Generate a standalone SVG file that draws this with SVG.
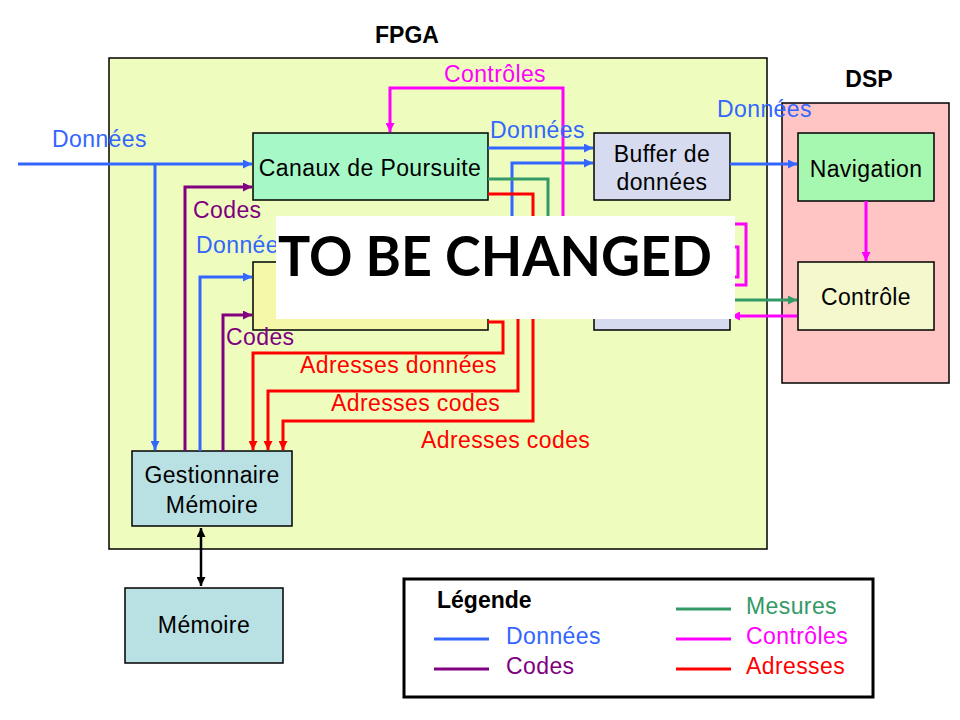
<svg xmlns="http://www.w3.org/2000/svg" width="960" height="720" viewBox="0 0 960 720">
<defs>
<style>
text{font-family:"Liberation Sans",Arial,sans-serif;font-size:23px;letter-spacing:0.4px}
.b{font-weight:bold;font-size:23px;letter-spacing:0}
.box{stroke:#000;stroke-width:1.5}
.ln{fill:none;stroke-width:3}
.bl{stroke:#3366FF}.pu{stroke:#800080}.gr{stroke:#339966}.mg{stroke:#FF00FF}.rd{stroke:#FF0000}
.tbl{fill:#3366FF}.tpu{fill:#800080}.tgr{fill:#339966}.tmg{fill:#FF00FF}.trd{fill:#FF0000}
.big{font-family:Lato,"Open Sans","DejaVu Sans",sans-serif;font-weight:bold;font-size:56px;letter-spacing:0}
</style>
<clipPath id="cut"><rect x="0" y="0" width="276" height="720"/></clipPath>
<marker id="aBl" viewBox="0 0 10 10" refX="10" refY="5" markerWidth="9" markerHeight="9" markerUnits="userSpaceOnUse" orient="auto"><path d="M0,0L10,5L0,10z" fill="#3366FF"/></marker>
<marker id="aPu" viewBox="0 0 10 10" refX="10" refY="5" markerWidth="9" markerHeight="9" markerUnits="userSpaceOnUse" orient="auto"><path d="M0,0L10,5L0,10z" fill="#800080"/></marker>
<marker id="aGr" viewBox="0 0 10 10" refX="10" refY="5" markerWidth="9" markerHeight="9" markerUnits="userSpaceOnUse" orient="auto"><path d="M0,0L10,5L0,10z" fill="#339966"/></marker>
<marker id="aMg" viewBox="0 0 10 10" refX="10" refY="5" markerWidth="9" markerHeight="9" markerUnits="userSpaceOnUse" orient="auto"><path d="M0,0L10,5L0,10z" fill="#FF00FF"/></marker>
<marker id="aRd" viewBox="0 0 10 10" refX="10" refY="5" markerWidth="9" markerHeight="9" markerUnits="userSpaceOnUse" orient="auto"><path d="M0,0L10,5L0,10z" fill="#FF0000"/></marker>
<marker id="aBk" viewBox="0 0 10 10" refX="10" refY="5" markerWidth="9" markerHeight="9" markerUnits="userSpaceOnUse" orient="auto-start-reverse"><path d="M0,0L10,5L0,10z" fill="#000"/></marker>
</defs>
<rect width="960" height="720" fill="#fff"/>

<g id="fpga">
<rect x="109" y="58" width="658" height="491" fill="#EEFCBE" class="box"/>
<text x="407" y="43" text-anchor="middle" class="b">FPGA</text>
</g>
<g id="dsp">
<rect x="782" y="103" width="167" height="280" fill="#FFC5C5" class="box"/>
<text x="869" y="87" text-anchor="middle" class="b">DSP</text>
</g>

<g id="canaux">
<rect x="253" y="133" width="235" height="67" fill="#A6F9C6" class="box"/>
<text x="370" y="176" text-anchor="middle">Canaux de Poursuite</text>
</g>
<g id="bloc2">
<rect x="253" y="262" width="235" height="68" fill="#F4F8A8" class="box"/>
</g>
<g id="buffer">
<rect x="594" y="133" width="136" height="67" fill="#D6DBEF" class="box"/>
<text x="662" y="162" text-anchor="middle">Buffer de</text>
<text x="662" y="190" text-anchor="middle">données</text>
</g>
<g id="bloc3">
<rect x="594" y="222" width="136" height="108" fill="#D6DBEF" class="box"/>
</g>
<g id="navigation">
<rect x="798" y="133" width="136" height="68" fill="#A6F8B0" class="box"/>
<text x="866" y="177" text-anchor="middle">Navigation</text>
</g>
<g id="controle">
<rect x="798" y="262" width="136" height="68" fill="#F4F8CC" class="box"/>
<text x="866" y="305" text-anchor="middle">Contrôle</text>
</g>
<g id="gestionnaire">
<rect x="132" y="451" width="160" height="75" fill="#B9E0E3" class="box"/>
<text x="212" y="483" text-anchor="middle">Gestionnaire</text>
<text x="212" y="513" text-anchor="middle">Mémoire</text>
</g>
<g id="memoire">
<rect x="125" y="588" width="158" height="75" fill="#B9E0E3" class="box"/>
<text x="204" y="633" text-anchor="middle">Mémoire</text>
</g>

<g id="connectors">
<path class="ln bl" d="M18,164H252" marker-end="url(#aBl)"/>
<path class="ln bl" d="M155,164V450" marker-end="url(#aBl)"/>
<path class="ln bl" d="M200,451V277H252" marker-end="url(#aBl)"/>
<path class="ln bl" d="M488,148H593" marker-end="url(#aBl)"/>
<path class="ln bl" d="M488,296H512V163H593" marker-end="url(#aBl)"/>
<path class="ln bl" d="M730,164H797" marker-end="url(#aBl)"/>
<path class="ln pu" d="M185,451V187H252" marker-end="url(#aPu)"/>
<path class="ln pu" d="M223,451V315H252" marker-end="url(#aPu)"/>
<path class="ln gr" d="M488,179H548V300H593"/>
<path class="ln gr" d="M730,300H797" marker-end="url(#aGr)"/>
<path class="ln mg" d="M563,300V88H390V132" marker-end="url(#aMg)"/>
<path class="ln mg" d="M730,224H746V285H730"/>
<path class="ln mg" d="M730,247H738V277H730"/>
<path class="ln mg" d="M797,316H731" marker-end="url(#aMg)"/>
<path class="ln mg" d="M866,201V261" marker-end="url(#aMg)"/>
<path class="ln rd" d="M488,322H503V353H253V450" marker-end="url(#aRd)"/>
<path class="ln rd" d="M518,260V391H268V450" marker-end="url(#aRd)"/>
<path class="ln rd" d="M488,194H533V421H283V450" marker-end="url(#aRd)"/>
<path d="M201,528V586" stroke="#000" stroke-width="2.5" fill="none" marker-start="url(#aBk)" marker-end="url(#aBk)"/>
</g>

<g id="labels">
<text x="52" y="147" class="tbl">Données</text>
<text x="490" y="138" class="tbl">Données</text>
<text x="717" y="117" class="tbl">Données</text>
<text x="196" y="253" class="tbl" clip-path="url(#cut)">Données</text>
<text x="193" y="218" class="tpu">Codes</text>
<text x="226" y="345" class="tpu">Codes</text>
<text x="495" y="82" text-anchor="middle" class="tmg">Contrôles</text>
<text x="300" y="373" class="trd">Adresses données</text>
<text x="331" y="411" class="trd">Adresses codes</text>
<text x="421" y="448" class="trd">Adresses codes</text>
</g>

<g id="legende">
<rect x="404" y="579" width="469" height="118" fill="#fff" stroke="#000" stroke-width="3"/>
<text x="437" y="608" class="b">Légende</text>
<path class="ln bl" d="M434,639H489"/>
<path class="ln pu" d="M434,669H489"/>
<path class="ln gr" d="M676,609H731"/>
<path class="ln mg" d="M676,639H731"/>
<path class="ln rd" d="M676,669H731"/>
<text x="506" y="644" class="tbl">Données</text>
<text x="506" y="674" class="tpu">Codes</text>
<text x="746" y="614" class="tgr">Mesures</text>
<text x="746" y="644" class="tmg">Contrôles</text>
<text x="746" y="674" class="trd">Adresses</text>
</g>

<g id="overlay">
<rect x="276" y="216" width="459" height="103" fill="#fff"/>
<text x="278" y="276" class="big" textLength="434" lengthAdjust="spacingAndGlyphs">TO BE CHANGED</text>
</g>
</svg>
